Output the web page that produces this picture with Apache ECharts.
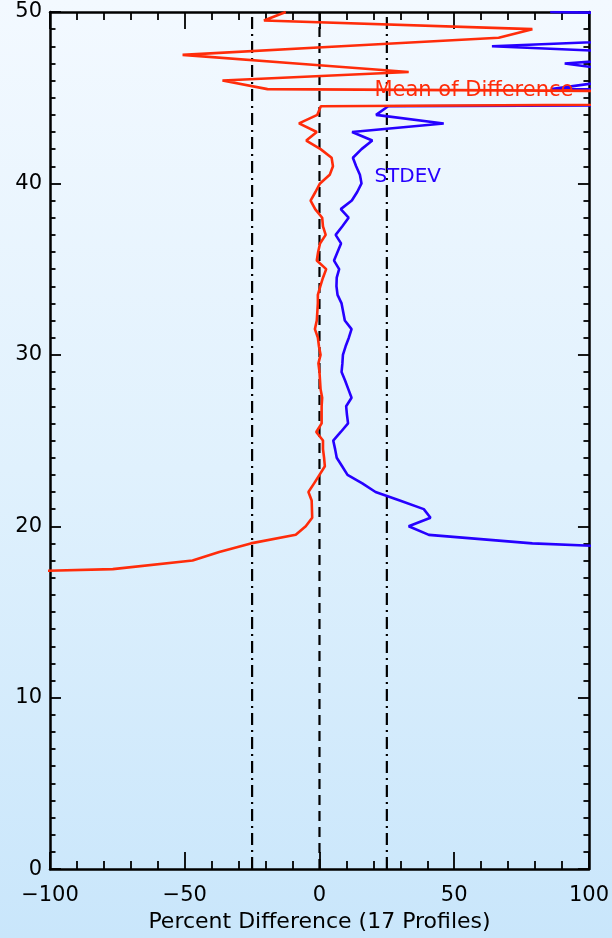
<!DOCTYPE html>
<html>
<head>
<meta charset="utf-8">
<script src="https://cdn.jsdelivr.net/npm/echarts@6/dist/echarts.min.js"></script>
<style>
  html, body { margin: 0; padding: 0; }
  #chart { width: 612px; height: 938px; }
</style>
</head>
<body>
<div id="chart"></div>
<script>
// Altitude levels (km), top to bottom
const altitudes = [
  50.0, 49.5, 49.0, 48.5, 48.0, 47.5, 47.0, 46.5, 46.0, 45.5,
  45.0, 44.5, 44.0, 43.5, 43.0, 42.5, 42.0, 41.5, 41.0, 40.5,
  40.0, 39.5, 39.0, 38.5, 38.0, 37.5, 37.0, 36.5, 36.0, 35.5,
  35.0, 34.5, 34.0, 33.5, 33.0, 32.5, 32.0, 31.5, 31.0, 30.5,
  30.0, 29.5, 29.0, 28.5, 28.0, 27.5, 27.0, 26.5, 26.0, 25.5,
  25.0, 24.5, 24.0, 23.5, 23.0, 22.5, 22.0, 21.5, 21.0, 20.5,
  20.0, 19.5, 19.0, 18.5, 18.0, 17.5, 17.0
];

// Mean percent difference at each level
const meanDiff = [
  -12.5, -20.6, 79.0, 66.5, 8.0, -50.8, -8.7, 33.1, -36.0, -19.3,
  580.0, 0.5, -0.8, -7.6, -1.0, -4.9, 0.4, 4.5, 5.0, 3.8,
  0.2, -1.5, -3.3, -1.6, 1.0, 1.3, 2.3, 0.2, -0.5, -1.0,
  2.5, 1.3, 0.3, -0.6, -0.6, -0.8, -1.0, -1.7, -0.6, -0.2,
  0.4, -0.4, 0.0, 0.2, 0.4, 1.0, 0.8, 0.8, 0.8, -1.2,
  1.3, 1.3, 1.7, 2.0, 0.0, -2.0, -4.1, -2.9, -2.8, -2.7,
  -5.1, -8.8, -25.5, -37.2, -47.1, -76.7, -200.0
];

// Standard deviation of the percent difference at each level
const stdDev = [
  85.6, 300.0, 250.0, 141.0, 64.0, 138.0, 91.0, 114.0, 109.0, 86.0,
  800.0, 25.5, 21.0, 46.1, 12.1, 19.6, 15.6, 12.4, 13.6, 15.0,
  15.6, 14.0, 12.0, 7.9, 10.8, 8.5, 6.0, 8.0, 6.7, 5.4,
  7.3, 6.4, 6.3, 6.7, 8.2, 8.8, 9.4, 11.9, 10.9, 9.7,
  8.7, 8.5, 8.2, 9.5, 10.7, 11.9, 9.9, 10.2, 10.6, 7.9,
  5.1, 5.8, 6.4, 8.4, 10.4, 15.9, 20.8, 29.8, 38.7, 41.2,
  33.1, 40.6, 79.0, 158.0, null, null, null
];

// Axis ticks
const xTicks = [-100, -50, 0, 50, 100];
const yTicks = [0, 10, 20, 30, 40, 50];

// Vertical reference lines (percent)
const refX = [-25, 0, 25];

// Curve annotations: [text, percent, altitude]
const meanNote = ['Mean of Difference', 20.2, 45.4];
const stdNote = ['STDEV', 20.2, 40.4];

const xTitle = 'Percent Difference (17 Profiles)';

const FONT = 'DejaVu Sans';
const RED = '#ff2c0a';
const BLUE = '#2600ff';

const chart = echarts.init(document.getElementById('chart'), null, { renderer: 'canvas' });

const axisLine = { show: true, onZero: false, lineStyle: { color: '#000', width: 2.5 } };
const tickStyle = { color: '#000', width: 1.8 };

function xAxisDef(pos, withLabels) {
  return {
    type: 'value',
    position: pos,
    min: xTicks[0],
    max: xTicks[xTicks.length - 1],
    interval: xTicks[1] - xTicks[0],
    axisLine: axisLine,
    axisTick: { show: true, inside: true, length: 17, lineStyle: tickStyle },
    minorTick: { show: true, splitNumber: 5, length: 8, lineStyle: tickStyle },
    splitLine: { show: false },
    minorSplitLine: { show: false },
    axisLabel: {
      show: withLabels,
      margin: 16,
      fontSize: 21,
      fontFamily: FONT,
      color: '#000',
      formatter: v => String(v).replace('-', '\u2212')
    },
    name: withLabels ? xTitle : '',
    nameLocation: 'middle',
    nameGap: 38,
    nameTextStyle: { fontSize: 22, fontFamily: FONT, color: '#000' }
  };
}

function yAxisDef(pos, withLabels) {
  return {
    type: 'value',
    position: pos,
    min: yTicks[0],
    max: yTicks[yTicks.length - 1],
    interval: yTicks[1] - yTicks[0],
    axisLine: axisLine,
    axisTick: { show: true, inside: true, length: 11, lineStyle: tickStyle },
    minorTick: { show: true, splitNumber: 10, length: 5.5, lineStyle: tickStyle },
    splitLine: { show: false },
    minorSplitLine: { show: false },
    axisLabel: {
      show: withLabels,
      margin: 8,
      fontSize: 21,
      fontFamily: FONT,
      color: '#000'
    }
  };
}

function profile(values) {
  return altitudes.map((a, i) => [values[i], a]);
}

function note(n, color, size) {
  return {
    symbol: 'circle',
    symbolSize: 1,
    itemStyle: { color: 'rgba(0,0,0,0)' },
    data: [{
      coord: [n[1], n[2]],
      label: {
        show: true,
        position: 'right',
        distance: 0,
        formatter: n[0],
        color: color,
        fontSize: size,
        fontFamily: FONT
      }
    }]
  };
}

const refSeries = refX.map(x => ({
  type: 'line',
  data: [[x, yTicks[0]], [x, yTicks[yTicks.length - 1]]],
  symbol: 'none',
  silent: true,
  z: 1,
  lineStyle: {
    color: '#000',
    width: 2.2,
    type: x === 0 ? [10, 6] : [12, 5, 2, 5]
  }
}));

chart.setOption({
  animation: false,
  backgroundColor: new echarts.graphic.LinearGradient(0, 0, 0, 1, [
    { offset: 0, color: '#f3f9ff' },
    { offset: 0.5, color: '#e0f1fd' },
    { offset: 1, color: '#c9e6fb' }
  ]),
  grid: { left: 50, right: 21, top: 12, bottom: 65, containLabel: false },
  xAxis: [xAxisDef('bottom', true), xAxisDef('top', false)],
  yAxis: [yAxisDef('left', true), yAxisDef('right', false)],
  series: refSeries.concat([
    {
      type: 'line',
      name: 'Mean',
      data: profile(meanDiff),
      symbol: 'none',
      clip: true,
      z: 3,
      lineStyle: { color: RED, width: 2.6 },
      markPoint: note(meanNote, RED, 21)
    },
    {
      type: 'line',
      name: 'STDEV',
      data: profile(stdDev),
      symbol: 'none',
      clip: true,
      z: 2,
      lineStyle: { color: BLUE, width: 2.6 },
      markPoint: note(stdNote, BLUE, 20)
    }
  ])
});
</script>
</body>
</html>
